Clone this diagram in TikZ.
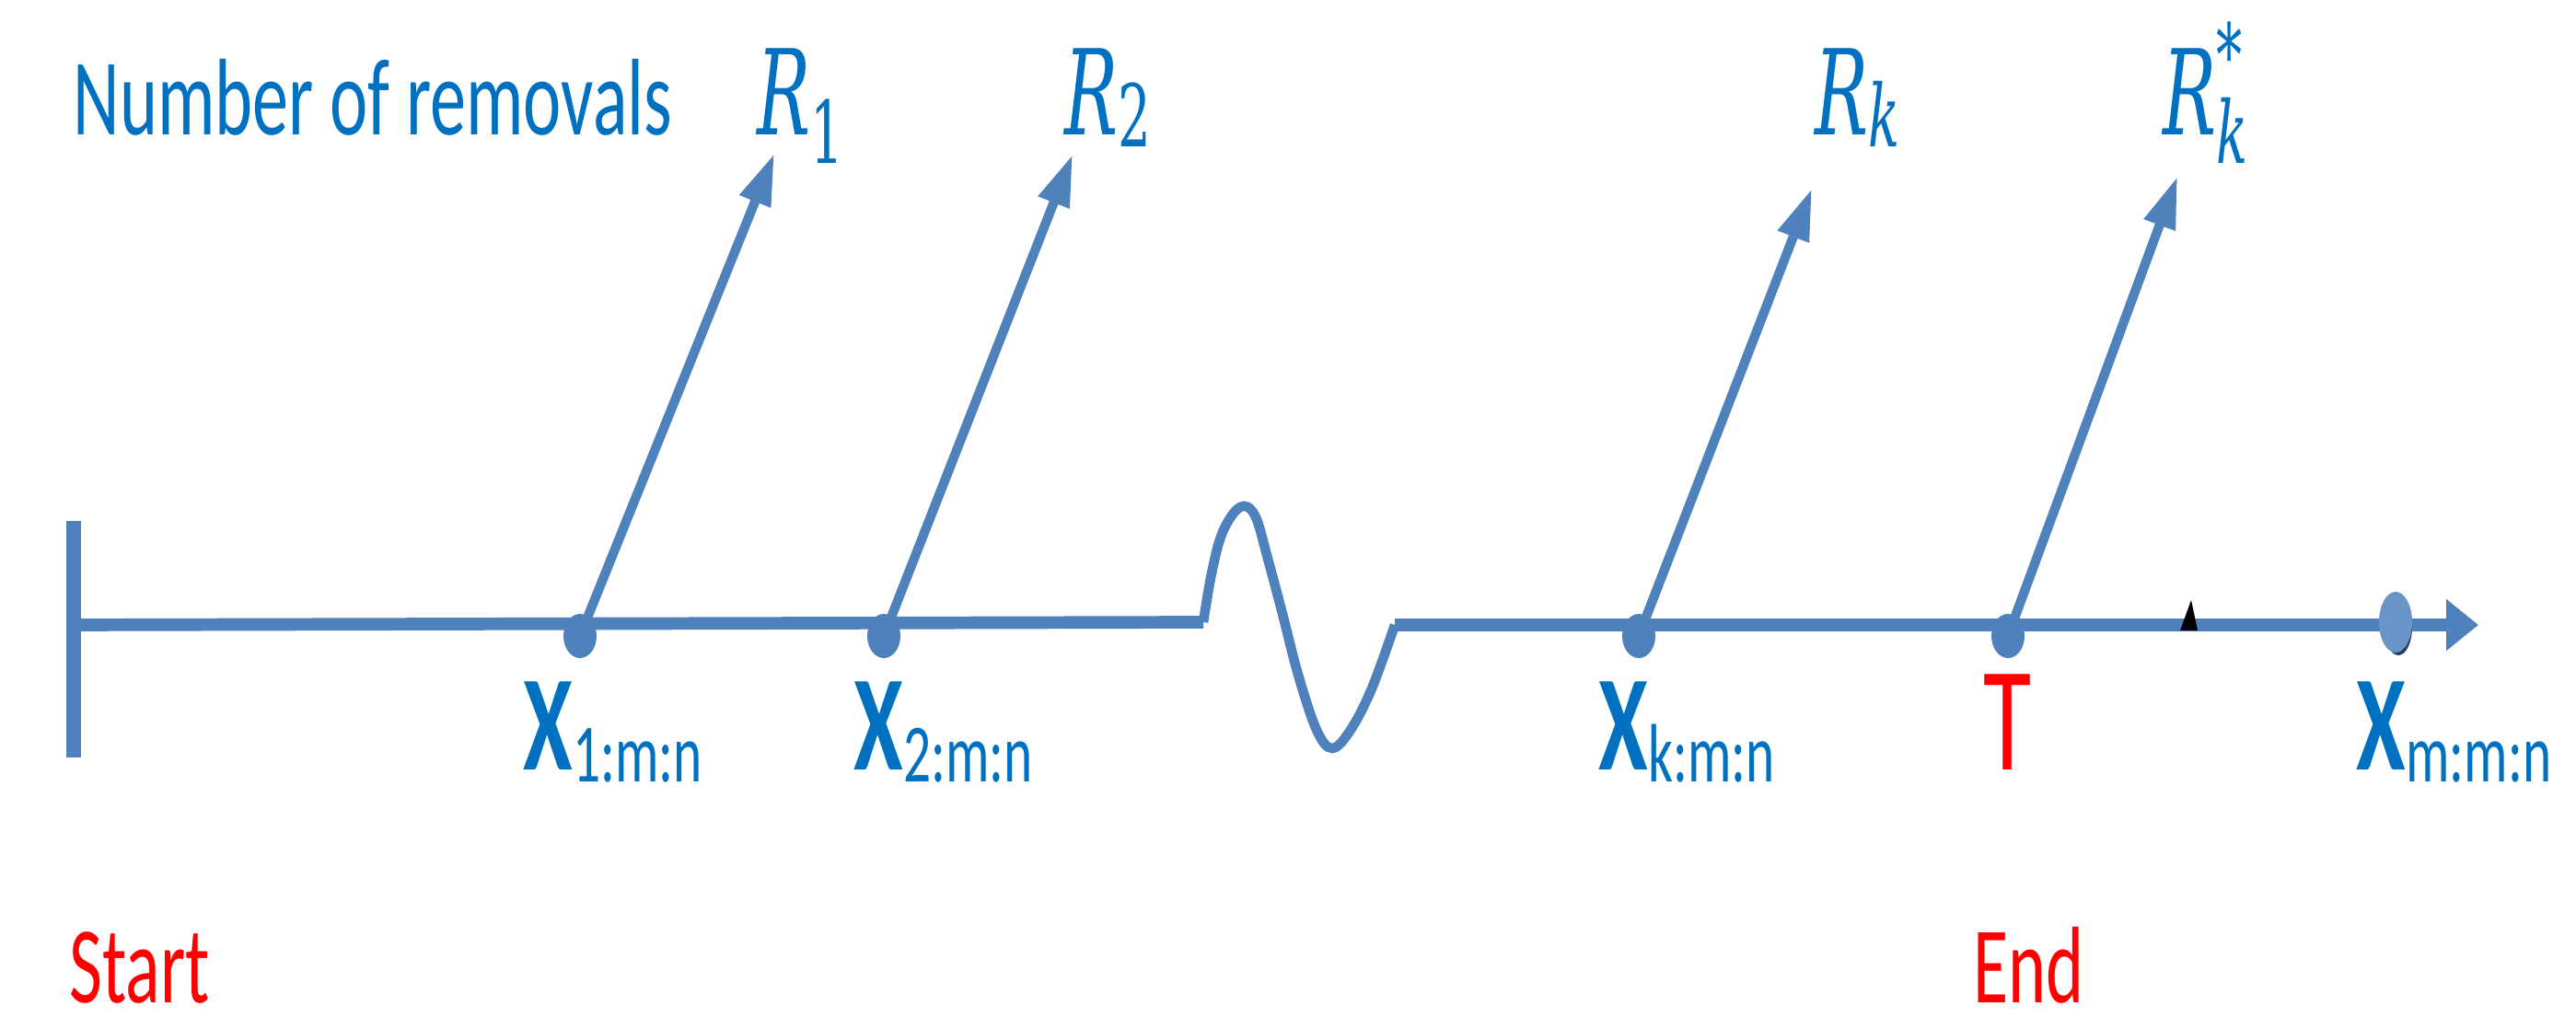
\documentclass[tikz,border=0pt]{standalone}
\usepackage{fontspec}
\usetikzlibrary{arrows.meta,shapes.geometric}
\newfontfamily\narrowfont[FakeStretch=0.66]{Carlito}
\newfontfamily\rfont[FakeStretch=0.6]{DejaVu Serif}
\definecolor{axisblue}{HTML}{4F81BD}
\definecolor{labelblue}{HTML}{0070C0}
\definecolor{shadowblue}{HTML}{243F60}
\newcommand{\xsub}[1]{\textbf{X}\raisebox{-0.13cm}{\fontsize{25.6}{30}\selectfont #1}}
\newcommand{\rsub}[2]{{\itshape R}\raisebox{#2}{\fontsize{26.7}{30}\selectfont #1}}
\begin{document}
\begin{tikzpicture}[
 axis/.style={axisblue,line width=3.9pt},
 wave/.style={axisblue,line width=3pt},
 removal/.style={axisblue,line width=2.9pt,-{Triangle[length=0.56cm,width=0.34cm]}},
 dot/.style={ellipse,fill=axisblue,inner sep=0pt,minimum width=0.36cm,minimum height=0.48cm},
 txt/.style={inner sep=0pt,anchor=base west,font=\narrowfont\fontsize{33.7}{40}\selectfont},
 rlab/.style={inner sep=0pt,anchor=base west,labelblue,font=\rfont\fontsize{36.6}{44}\selectfont},
 xlab/.style={inner sep=0pt,anchor=base west,labelblue,font=\narrowfont\fontsize{42}{50}\selectfont}]
\useasboundingbox (0,0) rectangle (27.98,11.18);
\coordinate (origin) at (0.80,4.39);
\coordinate (gapl) at (13.07,4.42);
\coordinate (gapr) at (15.15,4.39);
\coordinate (axend) at (26.92,4.39);
\draw[axisblue,line width=4.3pt] (0.80,5.52) -- (0.80,2.95);
\draw[axis] (origin) -- (gapl);
\draw[wave] plot[smooth,tension=0.6] coordinates {(13.07,4.42) (13.16,4.95) (13.28,5.40) (13.47,5.67) (13.63,5.58) (13.77,5.11) (13.93,4.51) (14.10,3.85) (14.30,3.25) (14.47,3.05) (14.67,3.25) (14.90,3.70) (15.15,4.39)};
\draw[axis,-{Triangle[length=0.35cm,width=0.54cm]}] (gapr) -- (axend);
\fill (23.68,4.33) -- (23.80,4.66) -- (23.87,4.33) -- cycle;
\node[dot] (x1) at (6.30,4.27) {};
\node[dot] (x2) at (9.60,4.27) {};
\node[dot] (xk) at (17.80,4.27) {};
\node[dot] (t) at (21.81,4.27) {};
\fill[shadowblue] (26.05,4.37) ellipse (0.15 and 0.31);
\node[dot,fill=axisblue!85!white,minimum height=0.66cm] (xm) at (26.02,4.42) {};
\coordinate (r1tip) at (8.41,9.51);
\coordinate (r2tip) at (11.65,9.50);
\coordinate (rktip) at (19.68,9.13);
\coordinate (rkstip) at (23.65,9.26);
\draw[removal] (x1.center) -- (r1tip);
\draw[removal] (x2.center) -- (r2tip);
\draw[removal] (xk.center) -- (rktip);
\draw[removal] (t.center) -- (rkstip);
\node[txt,labelblue] (title) at (0.79,9.71) {Number of removals};
\node[rlab] (r1) at (8.22,9.71) {\rsub{1}{-0.31cm}};
\node[rlab] (r2) at (11.56,9.71) {\rsub{2}{-0.13cm}};
\node[rlab] (rk) at (19.71,9.71) {\rsub{\itshape k}{-0.13cm}};
\node[rlab] (rks) at (23.49,9.71) {\rsub{\rlap{\raisebox{0.84cm}{*}}\itshape k}{-0.31cm}};
\node[xlab] (x1lab) at (5.68,2.81) {\xsub{1:m:n}};
\node[xlab] (x2lab) at (9.27,2.81) {\xsub{2:m:n}};
\node[xlab] (xklab) at (17.36,2.81) {\xsub{k:m:n}};
\node[xlab] (xmlab) at (25.59,2.81) {\xsub{m:m:n}};
\node[inner sep=0pt,anchor=base west,red,font=\narrowfont\fontsize{46}{54}\selectfont] (tlab) at (21.54,2.81) {T};
\node[txt,red] (start) at (0.75,0.28) {Start};
\node[txt,red] (end) at (21.43,0.28) {End};
\end{tikzpicture}
\end{document}
